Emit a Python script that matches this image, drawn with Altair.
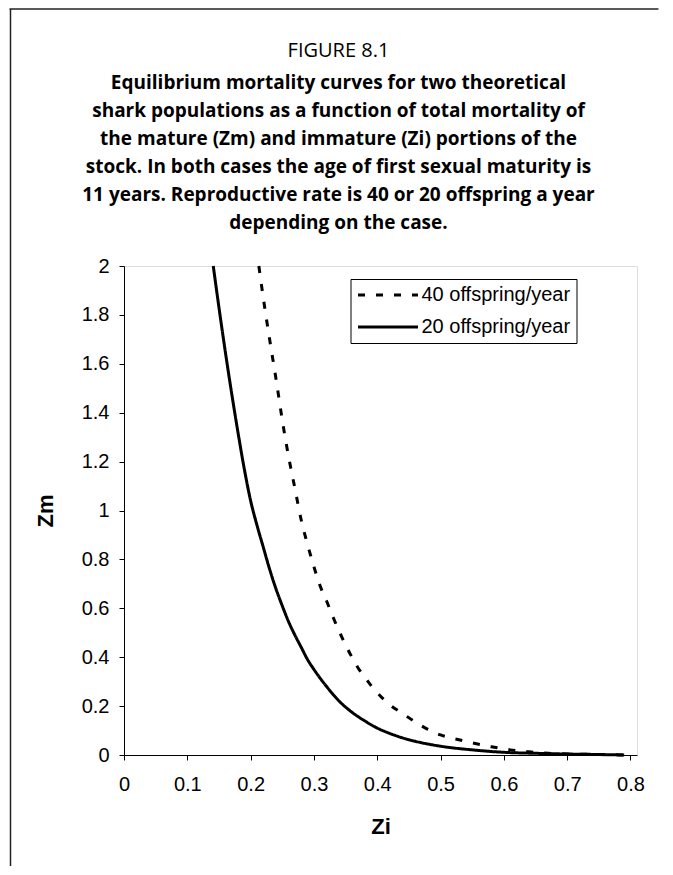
import altair as alt
import pandas as pd

series_names = ["40 offspring/year", "20 offspring/year"]

zi_40 = [0.213, 0.22, 0.23, 0.24, 0.25, 0.26, 0.27, 0.28, 0.29, 0.30, 0.31, 0.32,
         0.33, 0.34, 0.35, 0.36, 0.37, 0.38, 0.39, 0.40, 0.42, 0.44, 0.46, 0.48,
         0.50, 0.52, 0.55, 0.58, 0.61, 0.64, 0.67, 0.70, 0.75, 0.79]
zm_40 = [2.00, 1.87, 1.70, 1.54, 1.37, 1.22, 1.09, 0.96, 0.86, 0.77, 0.69, 0.63,
         0.565, 0.505, 0.45, 0.40, 0.355, 0.32, 0.285, 0.255, 0.205, 0.17, 0.135, 0.105,
         0.082, 0.068, 0.05, 0.034, 0.021, 0.013, 0.007, 0.004, 0.002, 0.0]

zi_20 = [0.141, 0.15, 0.16, 0.17, 0.18, 0.19, 0.20, 0.21, 0.22, 0.23, 0.24, 0.25,
         0.26, 0.27, 0.28, 0.29, 0.30, 0.32, 0.34, 0.36, 0.38, 0.40, 0.42, 0.44,
         0.46, 0.48, 0.50, 0.55, 0.60, 0.65, 0.70, 0.75, 0.79]
zm_20 = [2.00, 1.83, 1.65, 1.48, 1.32, 1.17, 1.04, 0.94, 0.85, 0.76, 0.68, 0.61,
         0.545, 0.49, 0.44, 0.39, 0.35, 0.28, 0.22, 0.175, 0.14, 0.11, 0.088, 0.07,
         0.056, 0.045, 0.036, 0.021, 0.011, 0.007, 0.004, 0.002, 0.0]

x_ticks = [0, 0.1, 0.2, 0.3, 0.4, 0.5, 0.6, 0.7, 0.8]
y_ticks = [0, 0.2, 0.4, 0.6, 0.8, 1, 1.2, 1.4, 1.6, 1.8, 2]

title_top = "FIGURE 8.1"
title_lines = [
    "Equilibrium mortality curves for two theoretical",
    "shark populations as a function of total mortality of",
    "the mature (Zm) and immature (Zi) portions of the",
    "stock. In both cases the age of first sexual maturity is",
    "11 years. Reproductive rate is 40 or 20 offspring a year",
    "depending on the case.",
]

rows = []
for zi, zm in zip(zi_40, zm_40):
    rows.append({"series": series_names[0], "Zi": zi, "Zm": zm})
for zi, zm in zip(zi_20, zm_20):
    rows.append({"series": series_names[1], "Zi": zi, "Zm": zm})
df = pd.DataFrame(rows)

lines = alt.Chart(df).mark_line(color="black", strokeWidth=3, interpolate="monotone").encode(
    x=alt.X("Zi:Q", scale=alt.Scale(domain=[0, 0.8103], nice=False),
            axis=alt.Axis(values=x_ticks, format="~g", grid=False, title="Zi",
                          labelFont="Liberation Sans", labelFontSize=20, labelColor="black",
                          labelPadding=14, labelOverlap=False, labelFlush=False,
                          tickSize=5, tickColor="black", domainColor="black",
                          titleFont="Liberation Sans", titleFontSize=22, titleFontWeight="bold",
                          titleColor="black", titlePadding=22)),
    y=alt.Y("Zm:Q", scale=alt.Scale(domain=[0, 2], nice=False),
            axis=alt.Axis(values=y_ticks, format="~g", grid=False, title="Zm",
                          labelFont="Liberation Sans", labelFontSize=20, labelColor="black",
                          labelPadding=10, labelOverlap=False, labelFlush=False,
                          tickSize=5, tickColor="black", domainColor="black",
                          titleFont="Liberation Sans", titleFontSize=22, titleFontWeight="bold",
                          titleColor="black", titlePadding=24)),
    strokeDash=alt.StrokeDash("series:N", title=None,
                              scale=alt.Scale(domain=series_names, range=[[7, 11], [1, 0]]),
                              sort=series_names,
                              legend=alt.Legend(orient="none", legendX=226.5, legendY=13,
                                                symbolType="stroke", symbolSize=3600,
                                                symbolStrokeWidth=3, symbolStrokeColor="black",
                                                labelFont="Liberation Sans", labelFontSize=20,
                                                labelColor="black", labelOffset=2, labelLimit=400,
                                                padding=6, rowPadding=12, clipHeight=20,
                                                strokeColor="black", fillColor="white",
                                                cornerRadius=0)),
    detail="series:N",
)

frame_df = pd.DataFrame({"k": [0]})
left_line = alt.Chart(frame_df).mark_rule(color="#222", strokeWidth=1.5).encode(
    x=alt.value(-113.5), y=alt.value(-257), y2=alt.value(600))
top_line = alt.Chart(frame_df).mark_rule(color="#222", strokeWidth=1.5).encode(
    y=alt.value(-257), x=alt.value(-114.5), x2=alt.value(534.5))

chart = alt.layer(lines, left_line, top_line).properties(
    width=513, height=489,
    padding=0,
    title=alt.TitleParams(text=title_top, subtitle=title_lines,
                          font="Open Sans", fontSize=20, fontWeight="normal", color="black",
                          subtitleFont="Open Sans", subtitleFontSize=19, subtitleFontWeight="bold",
                          subtitleColor="black", subtitleLineHeight=28, subtitlePadding=13,
                          anchor="middle", frame="group", dx=-42, dy=243, offset=18),
).configure_view(stroke="#666", strokeWidth=1).configure(background="white")

chart.save("out.html", embed_options={"renderer": "svg", "actions": False})
